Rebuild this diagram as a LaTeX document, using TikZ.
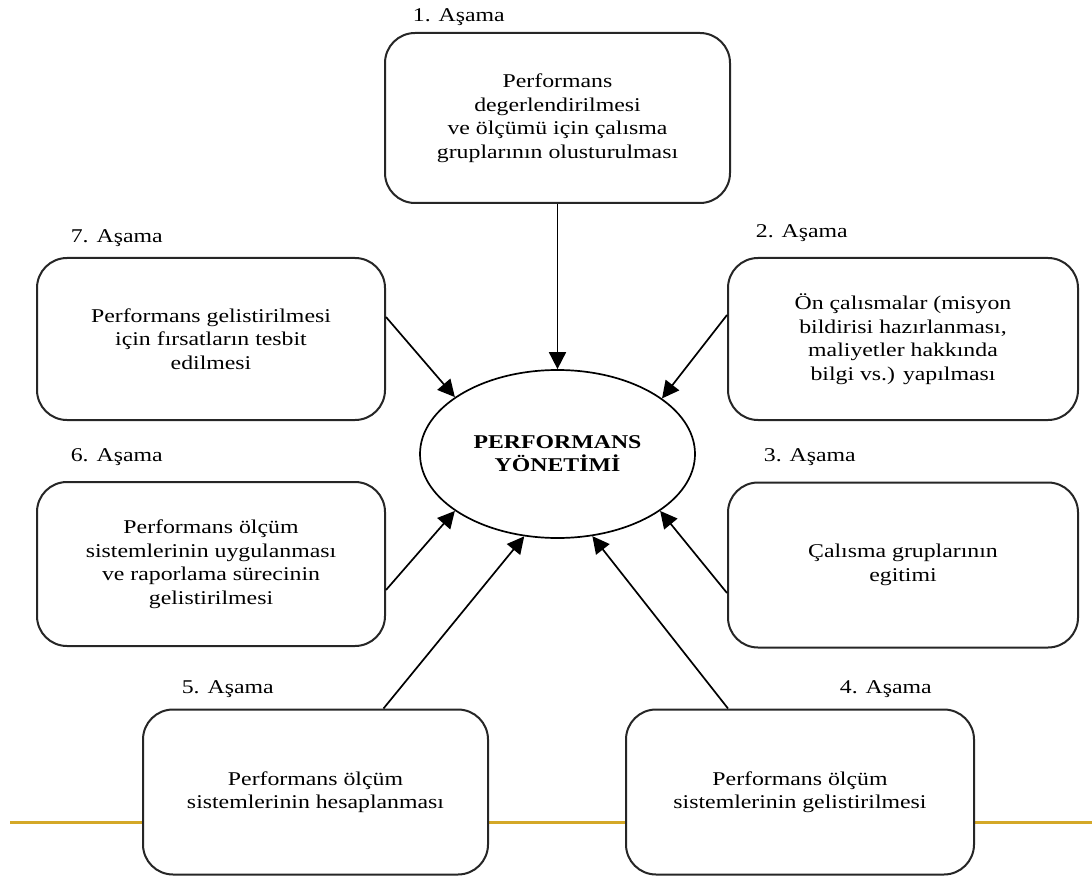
\documentclass[tikz,border=0pt]{standalone}
\usepackage{fontspec}
\setmainfont{Liberation Serif}[FakeStretch=1.22]
\usetikzlibrary{arrows.meta,shapes.geometric}
\definecolor{gold}{RGB}{212,168,40}

\begin{document}
\begin{tikzpicture}[x=1pt,y=-1pt,->,>={Triangle[length=17pt,width=17pt]},
                    line width=1.7pt,font=\fontsize{19.5}{23.5}\selectfont]
  \tikzstyle{stage box}=[draw=black!85,line width=2pt,fill=white,
                         rounded corners=30pt,align=center,inner sep=0pt]
  \tikzstyle{stage}=[anchor=west,inner sep=0pt]

  \useasboundingbox (0,0) rectangle (1092,877);
  \draw[-,line width=3pt,draw=gold] (10,822) -- (1092,822);

  \node[ellipse,draw,fill=white,inner sep=0pt,minimum width=275pt,
        minimum height=168pt,align=center,font=\fontsize{19.5}{23}\selectfont\bfseries]
        (pm) at (557.5,454) {PERFORMANS\\YÖNETİMİ};

  \node[stage box,minimum width=345pt,minimum height=170pt] (b1) at (557.5,118)
        {Performans\\degerlendirilmesi\\ve ölçümü için çalısma\\gruplarının olusturulması};
  \node[stage box,minimum width=350pt,minimum height=162pt] (b2) at (903,339)
        {Ön çalısmalar (misyon\\bildirisi hazırlanması,\\maliyetler hakkında\\bilgi vs.) yapılması};
  \node[stage box,minimum width=350pt,minimum height=165pt] (b3) at (903,565)
        {Çalısma gruplarının\\egitimi};
  \node[stage box,minimum width=348pt,minimum height=165pt] (b4) at (800,792)
        {Performans ölçüm\\sistemlerinin gelistirilmesi};
  \node[stage box,minimum width=345pt,minimum height=165pt] (b5) at (315.5,792)
        {Performans ölçüm\\sistemlerinin hesaplanması};
  \node[stage box,minimum width=348pt,minimum height=164pt] (b6) at (211,564)
        {Performans ölçüm\\sistemlerinin uygulanması\\ve raporlama sürecinin\\gelistirilmesi};
  \node[stage box,minimum width=348pt,minimum height=162pt] (b7) at (211,339)
        {Performans gelistirilmesi\\için fırsatların tesbit\\edilmesi};

  \node[stage] (l1) at (412,17)  {1. Aşama};
  \node[stage] (l2) at (755,233) {2. Aşama};
  \node[stage] (l3) at (763,457) {3. Aşama};
  \node[stage] (l4) at (839,689) {4. Aşama};
  \node[stage] (l5) at (181,689) {5. Aşama};
  \node[stage] (l6) at (70,457)  {6. Aşama};
  \node[stage] (l7) at (70,238)  {7. Aşama};

  \draw (b1.south) -- (pm.north);
  \draw ([yshift=24pt]b2.west) -- (pm.28);
  \draw ([yshift=-28pt]b3.west) -- (pm.331);
  \draw ([xshift=-72pt]b4.north) -- (pm.293);
  \draw ([xshift=68pt]b5.north) -- (pm.248);
  \draw ([yshift=-26pt]b6.east) -- (pm.209);
  \draw ([yshift=22pt]b7.east) -- (pm.151);
\end{tikzpicture}
\end{document}
